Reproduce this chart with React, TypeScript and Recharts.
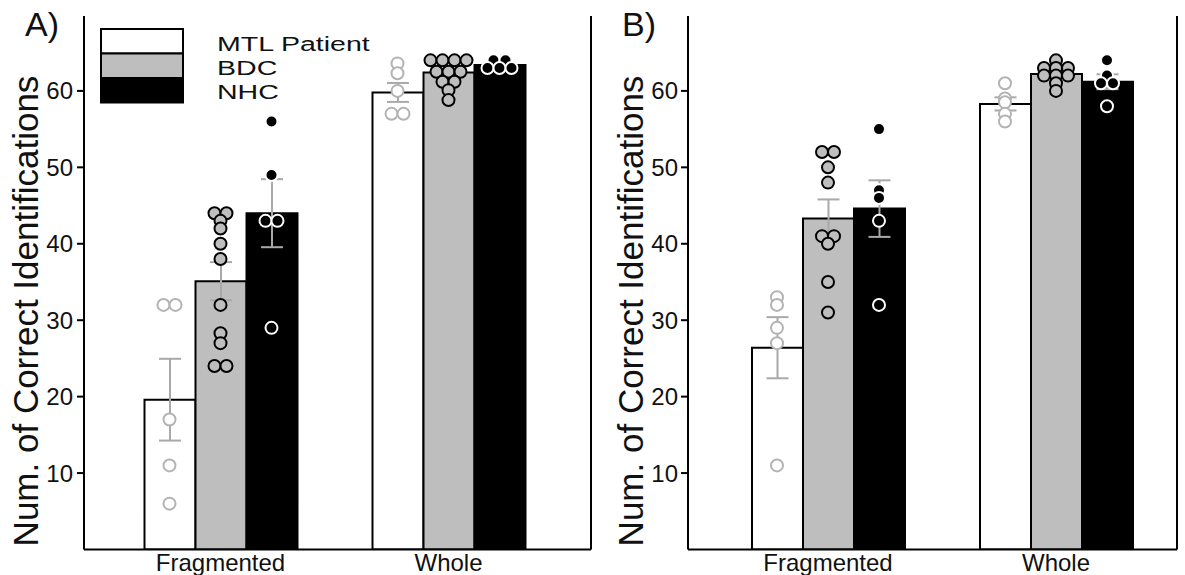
import React from 'react';
import { ComposedChart, Bar, XAxis, YAxis, Scatter, ErrorBar } from 'recharts';

const FONT = "'Liberation Sans', Arial, Helvetica, sans-serif";
const CONDITIONS = ['Fragmented', 'Whole'];
const GROUPS = ['MTL Patient', 'BDC', 'NHC'];
const Y_TICKS = [10, 20, 30, 40, 50, 60];
const Y_MAX = 69.8;
const Y_LABEL = 'Num. of Correct Identifications';

// ---- Panel A ----
const A_MEAN_MTL = [19.6, 59.8];
const A_MEAN_BDC = [35.1, 62.4];
const A_MEAN_NHC = [44.0, 63.4];
const A_SE_MTL = [5.35, 1.24];
const A_SE_BDC = [2.5, 0.5];
const A_SE_NHC = [4.45, 0.25];
const A_PTS_MTL_FRAG = [32, 32, 17, 11, 6];
const A_PTS_MTL_WHOLE = [63.6, 62.3, 60, 57, 57];
const A_PTS_BDC_FRAG = [44, 44, 43, 42, 40, 38, 32, 28.3, 27, 24, 24];
const A_PTS_BDC_WHOLE = [64, 64, 64, 64, 62.5, 62.5, 62.5, 61.2, 61.2, 60.1, 58.8];
const A_PTS_NHC_FRAG = [56, 49, 43, 43, 29];
const A_PTS_NHC_WHOLE = [64, 64, 63, 63, 63];

// ---- Panel B ----
const B_MEAN_MTL = [26.4, 58.3];
const B_MEAN_BDC = [43.3, 62.2];
const B_MEAN_NHC = [44.6, 61.2];
const B_SE_MTL = [4.0, 0.86];
const B_SE_BDC = [2.5, 0.45];
const B_SE_NHC = [3.7, 0.97];
const B_PTS_MTL_FRAG = [33, 32, 29, 27, 11];
const B_PTS_MTL_WHOLE = [61, 59, 58.5, 57, 56];
const B_PTS_BDC_FRAG = [52, 52, 50, 48, 41, 41, 40, 35, 31];
const B_PTS_BDC_WHOLE = [64, 63, 63, 63, 62, 62, 62, 61, 60];
const B_PTS_NHC_FRAG = [55, 47, 46, 43, 32];
const B_PTS_NHC_WHOLE = [64, 62, 61, 61, 58];

// ---- styles ----
const BAR_FILLS = ['#ffffff', '#bebebe', '#000000'];
const DOT_FILLS = ['#ffffff', '#bebebe', '#000000'];
const DOT_STROKES = ['#b3b3b3', '#000000', '#ffffff'];
const ERR_COLOR = '#a9a9a9';
const BAR_SIZE = 51;
const DOT_STEP = 12;
const DOT_R = 6;
const TEXT = '#111111';

type Pt = { x: number; y: number; k: number; n: number };

function buildPoints(frag: number[], whole: number[]): Pt[] {
  const out: Pt[] = [];
  [frag, whole].forEach((vals, ci) => {
    const counts = new Map<number, number>();
    vals.forEach((v) => counts.set(v, (counts.get(v) || 0) + 1));
    const seen = new Map<number, number>();
    vals.forEach((v) => {
      const k = seen.get(v) || 0;
      seen.set(v, k + 1);
      out.push({ x: ci + 1, y: v, k, n: counts.get(v) as number });
    });
  });
  return out;
}

function buildBars(m: number[][], se: number[][]) {
  return CONDITIONS.map((c, i) => ({
    cond: c,
    MTL: m[0][i],
    BDC: m[1][i],
    NHC: m[2][i],
    MTLse: se[0][i],
    BDCse: se[1][i],
    NHCse: se[2][i],
  }));
}

const dotShape = (g: number) => (props: any) => {
  const { cx, cy, payload } = props;
  const dx = (g - 1) * BAR_SIZE + (payload.k - (payload.n - 1) / 2) * DOT_STEP;
  return (
    <circle cx={cx + dx} cy={cy} r={DOT_R} fill={DOT_FILLS[g]} stroke={DOT_STROKES[g]} strokeWidth={2} />
  );
};

const YLabel = (props: any) => {
  const { x0 } = props;
  const cy = 311;
  return (
    <text
      x={x0}
      y={cy}
      transform={`rotate(-90, ${x0}, ${cy})`}
      textAnchor="middle"
      fontSize={35}
      fontFamily={FONT}
      fill={TEXT}
    >
      {Y_LABEL}
    </text>
  );
};

type PanelProps = {
  width: number;
  yWidth: number;
  rWidth: number;
  padL: number;
  padR: number;
  labelX: number;
  tickMargin: number;
  bars: any[];
  pts: Pt[][];
};

function Panel({ width, yWidth, rWidth, padL, padR, labelX, tickMargin, bars, pts }: PanelProps) {
  const axisLine = { stroke: '#000', strokeWidth: 2 };
  const keys = ['MTL', 'BDC', 'NHC'];
  return (
    <ComposedChart
      width={width}
      height={575}
      data={bars}
      margin={{ top: 16, right: 0, bottom: 0, left: 0 }}
      barGap={0}
    >
      <XAxis
        xAxisId="cat"
        dataKey="cond"
        type="category"
        padding={{ left: padL, right: padR }}
        tickLine={false}
        tickSize={0}
        tickMargin={4}
        axisLine={axisLine}
        tick={{ fontSize: 24, fill: TEXT, fontFamily: FONT }}
        height={25.5}
        interval={0}
      />
      <XAxis
        xAxisId="num"
        type="number"
        dataKey="x"
        domain={[0.5, 2.5]}
        padding={{ left: padL, right: padR }}
        allowDataOverflow
        hide
      />
      <XAxis
        xAxisId="top"
        orientation="top"
        type="number"
        domain={[0, 1]}
        tick={false}
        tickLine={false}
        height={0}
        axisLine={axisLine}
      />
      <YAxis
        yAxisId="left"
        domain={[0, Y_MAX]}
        ticks={Y_TICKS}
        allowDataOverflow
        width={yWidth}
        tickSize={7}
        tickMargin={tickMargin}
        tickLine={axisLine}
        axisLine={axisLine}
        tick={{ fontSize: 24, fill: TEXT, fontFamily: FONT }}
        label={<YLabel x0={labelX} />}
      />
      <YAxis
        yAxisId="right"
        orientation="right"
        domain={[0, Y_MAX]}
        ticks={Y_TICKS}
        allowDataOverflow
        width={rWidth}
        tick={false}
        tickSize={6}
        tickLine={axisLine}
        axisLine={axisLine}
      />
      {keys.map((k, g) => (
        <Bar
          key={k}
          xAxisId="cat"
          yAxisId="left"
          dataKey={k}
          name={GROUPS[g]}
          barSize={BAR_SIZE}
          fill={BAR_FILLS[g]}
          stroke="#000"
          strokeWidth={2}
          isAnimationActive={false}
        >
          <ErrorBar dataKey={`${k}se`} width={11} stroke={ERR_COLOR} strokeWidth={2} direction="y" />
        </Bar>
      ))}
      {keys.map((k, g) => (
        <Scatter
          key={`s-${k}`}
          xAxisId="num"
          yAxisId="left"
          data={pts[g]}
          dataKey="y"
          legendType="none"
          shape={dotShape(g)}
          isAnimationActive={false}
        />
      ))}
    </ComposedChart>
  );
}

const barsA = buildBars([A_MEAN_MTL, A_MEAN_BDC, A_MEAN_NHC], [A_SE_MTL, A_SE_BDC, A_SE_NHC]);
const ptsA = [
  buildPoints(A_PTS_MTL_FRAG, A_PTS_MTL_WHOLE),
  buildPoints(A_PTS_BDC_FRAG, A_PTS_BDC_WHOLE),
  buildPoints(A_PTS_NHC_FRAG, A_PTS_NHC_WHOLE),
];
const barsB = buildBars([B_MEAN_MTL, B_MEAN_BDC, B_MEAN_NHC], [B_SE_MTL, B_SE_BDC, B_SE_NHC]);
const ptsB = [
  buildPoints(B_PTS_MTL_FRAG, B_PTS_MTL_WHOLE),
  buildPoints(B_PTS_BDC_FRAG, B_PTS_BDC_WHOLE),
  buildPoints(B_PTS_NHC_FRAG, B_PTS_NHC_WHOLE),
];

function LegendOverlay() {
  return (
    <svg width={600} height={130} style={{ position: 'absolute', left: 0, top: 0, pointerEvents: 'none' }}>
      <text x={25} y={36} fontSize={34} fontFamily={FONT} fill={TEXT}>A)</text>
      {GROUPS.map((g, i) => (
        <g key={g}>
          <rect x={101} y={29 + i * 24.5} width={82} height={24.5} fill={BAR_FILLS[i]} stroke="#000" strokeWidth={2} />
          <g transform={`translate(217, ${51 + i * 24}) scale(1.36, 1)`}>
            <text x={0} y={0} fontSize={21} fontFamily={FONT} fill={TEXT}>{g}</text>
          </g>
        </g>
      ))}
    </svg>
  );
}

export default function App() {
  return (
    <div style={{ position: 'absolute', left: 0, top: 0, width: 1185, height: 575, background: '#fff' }}>
      <div style={{ position: 'absolute', left: 0, top: 0 }}>
        <Panel width={600} yWidth={84} rWidth={9} padL={22.5} padR={28.5} labelX={38} tickMargin={4} bars={barsA} pts={ptsA} />
      </div>
      <div style={{ position: 'absolute', left: 600, top: 0 }}>
        <Panel width={585} yWidth={88} rWidth={8} padL={26} padR={7} labelX={43} tickMargin={3} bars={barsB} pts={ptsB} />
      </div>
      <LegendOverlay />
      <svg width={100} height={50} style={{ position: 'absolute', left: 600, top: 0, pointerEvents: 'none' }}>
        <text x={22} y={36} fontSize={34} fontFamily={FONT} fill={TEXT}>B)</text>
      </svg>
    </div>
  );
}
